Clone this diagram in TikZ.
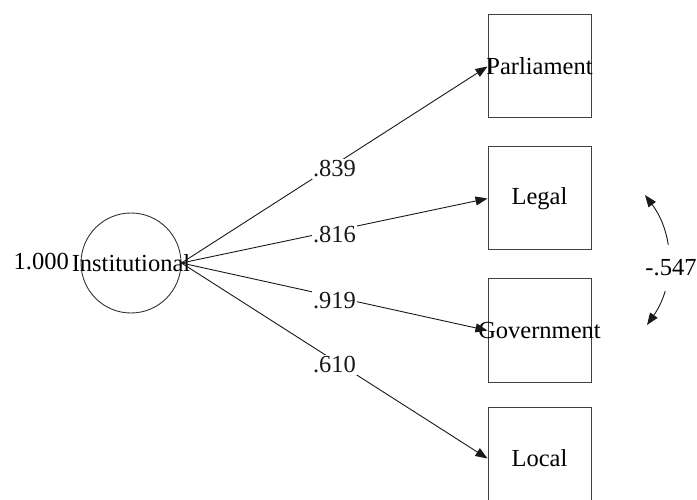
\documentclass[tikz,border=0pt]{standalone}
\usepackage{fontspec}
\setmainfont{Liberation Serif}
\usepackage{tikz}
\usetikzlibrary{positioning,arrows.meta}
\newcommand{\ovr}[1]{\raisebox{-3pt}{\makebox[0pt]{#1}}}
\tikzset{
  load/.style={-{Triangle[length=12pt, width=9pt]}, line width=0.9pt, color=black!90},
  cov/.style={{Triangle[length=12pt, width=9pt]}-{Triangle[length=12pt, width=9pt]}, line width=0.9pt, color=black!90},
  obs/.style={rectangle, draw=black!75, line width=1pt, minimum width=103pt, minimum height=103pt, inner sep=0pt},
  lat/.style={circle, draw=black!80, line width=0.9pt, minimum size=100pt, inner sep=0pt},
  coef/.style={fill=white, inner sep=1.5pt, yshift=-4pt}
}

\begin{document}
\begin{tikzpicture}[x=1pt, y=-1pt, font=\fontsize{24.5}{29}\selectfont]
\useasboundingbox (0,0) rectangle (697,500);
\node[lat] (inst) at (131,263) {\raisebox{-3pt}{\ovr{Institutional}}};
\node[anchor=east, inner sep=0pt] (var) at (69,262) {1.000};
\node[obs] (parl) at (539.5,66.5) {\ovr{Parliament}};
\node[obs, below=28pt of parl] (legal) {\ovr{Legal}};
\node[obs, below=28pt of legal] (gov) {\ovr{Government}};
\node[obs, below=24pt of gov] (local) {\ovr{Local}};
\draw[load] (inst.east) -- node[coef] {.839} (parl.west);
\draw[load] (inst.east) -- node[coef] {.816} (legal.west);
\draw[load] (inst.east) -- node[coef] {.919} (gov.west);
\draw[load] (inst.east) -- node[coef] {.610} (local.west);
% correlated errors
\coordinate (ctop) at (645,195);
\coordinate (cbot) at (647,325);
\draw[cov] (ctop) .. controls (675,235) and (675,285) .. (cbot);
\node[fill=white, inner xsep=1pt, minimum height=46pt] (r) at (671,268) {-.547};
\end{tikzpicture}
\end{document}
